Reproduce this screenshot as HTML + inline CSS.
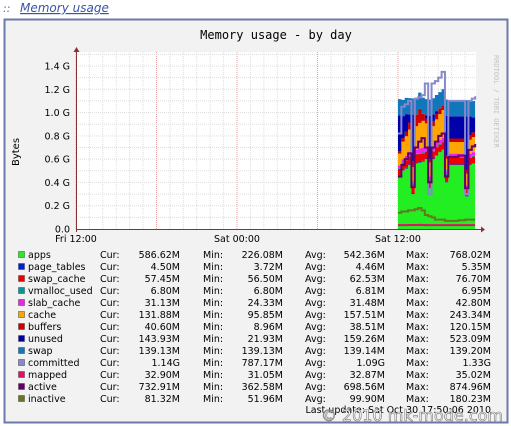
<!DOCTYPE html>
<html><head><meta charset="utf-8"><style>
body{margin:0;background:#fff;width:511px;height:426px;overflow:hidden}
svg{display:block}
</style></head><body>
<svg id="c" width="511" height="426" xmlns="http://www.w3.org/2000/svg" font-family="DejaVu Sans, Liberation Sans, sans-serif">
<text x="3" y="12" font-size="11" fill="#5566aa" font-style="italic">::</text>
<text x="20" y="12" font-size="12" fill="#3a55a8" font-style="italic" text-decoration="underline">Memory usage</text>
<rect x="4.5" y="19.5" width="503" height="403" fill="#f2f2f2" stroke="#6b7aa8" stroke-width="2"/>
<text x="276" y="39" font-size="12" font-family="DejaVu Sans Mono, Liberation Mono, monospace" text-anchor="middle" fill="#000">Memory usage - by day</text>
<text transform="translate(494,55) rotate(90)" font-size="7" fill="#c4c4c4" font-family="DejaVu Sans Mono, monospace">RRDTOOL / TOBI OETIKER</text>
<text transform="translate(19,152) rotate(-90)" font-size="10" text-anchor="middle">Bytes</text>
<rect x="76" y="52" width="400" height="177" fill="#fff"/>
<g id="grid"></g><g id="marks"></g><g id="axes"></g><g id="legend"></g>
<text x="491" y="413" font-size="9.5" text-anchor="end">Last update: Sat Oct 30 17:50:06 2010</text>
<text x="503" y="421" font-size="16" text-anchor="end" fill="#fff" stroke="#777" stroke-width="0.6">© 2010 mk-mode.com</text>
</svg>
<script>
const times=[24.0,24.25,24.5,24.75,25,25.25,25.5,25.75,26,26.25,26.5,26.75,27,27.25,27.5,27.75,28,28.25,28.5,28.75,29,29.25,29.5,29.75];
const apps=[0.45,0.5,0.52,0.55,0.3,0.56,0.57,0.58,0.6,0.35,0.6,0.63,0.66,0.68,0.4,0.55,0.55,0.55,0.55,0.55,0.28,0.55,0.56,0.58];
const pageTables=[0.005,0.005,0.005,0.005,0.005,0.005,0.005,0.005,0.005,0.005,0.005,0.005,0.005,0.005,0.005,0.005,0.005,0.005,0.005,0.005,0.005,0.005,0.005,0.005];
const swapCache=[0.06,0.06,0.065,0.07,0.07,0.075,0.07,0.065,0.06,0.06,0.06,0.065,0.06,0.06,0.06,0.055,0.055,0.055,0.055,0.055,0.055,0.055,0.057,0.057];
const vmallocUsed=[0.007,0.007,0.007,0.007,0.007,0.007,0.007,0.007,0.007,0.007,0.007,0.007,0.007,0.007,0.007,0.007,0.007,0.007,0.007,0.007,0.007,0.007,0.007,0.007];
const slabCache=[0.025,0.028,0.03,0.033,0.03,0.035,0.04,0.042,0.035,0.03,0.032,0.035,0.035,0.03,0.03,0.03,0.03,0.03,0.03,0.03,0.03,0.03,0.031,0.031];
const cache=[0.1,0.15,0.17,0.19,0.12,0.2,0.22,0.23,0.2,0.12,0.18,0.2,0.22,0.24,0.1,0.1,0.1,0.1,0.1,0.1,0.1,0.12,0.13,0.13];
const buffers=[0.02,0.03,0.04,0.06,0.05,0.1,0.12,0.06,0.04,0.03,0.04,0.05,0.05,0.04,0.03,0.03,0.03,0.03,0.03,0.03,0.03,0.04,0.04,0.04];
const unused=[0.31,0.19,0.15,0.07,0.4,0.0,0.0,0.0,0.03,0.37,0.06,0.02,0.0,0.0,0.34,0.19,0.19,0.19,0.19,0.19,0.46,0.16,0.13,0.12];
const swap=[0.139,0.139,0.139,0.139,0.139,0.139,0.139,0.139,0.139,0.139,0.139,0.139,0.139,0.139,0.139,0.139,0.139,0.139,0.139,0.139,0.139,0.139,0.139,0.139];
const committed=[0.82,1.05,1.07,1.1,0.4,1.12,1.13,1.15,1.25,0.3,1.25,1.27,1.3,1.35,0.5,1.1,1.1,1.1,1.1,1.1,0.3,1.1,1.12,1.14];
const mapped=[0.033,0.033,0.033,0.034,0.034,0.034,0.035,0.034,0.033,0.033,0.033,0.033,0.033,0.033,0.033,0.033,0.033,0.033,0.033,0.033,0.033,0.033,0.033,0.033];
const active=[0.45,0.55,0.6,0.65,0.36,0.7,0.75,0.78,0.7,0.4,0.7,0.75,0.8,0.82,0.45,0.62,0.62,0.62,0.63,0.63,0.35,0.68,0.71,0.73];
const inactive=[0.14,0.15,0.15,0.16,0.16,0.17,0.18,0.16,0.12,0.11,0.1,0.08,0.08,0.08,0.07,0.07,0.07,0.07,0.075,0.075,0.08,0.08,0.081,0.081];
const yTicks=[0,0.2,0.4,0.6,0.8,1.0,1.2,1.4];
const yTickLabels=["0.0","0.2 G","0.4 G","0.6 G","0.8 G","1.0 G","1.2 G","1.4 G"];
const xTicks=[0,12,24];
const xTickLabels=["Fri 12:00","Sat 00:00","Sat 12:00"];
const legendNames=["apps","page_tables","swap_cache","vmalloc_used","slab_cache","cache","buffers","unused","swap","committed","mapped","active","inactive"];
const legendCur=["586.62M","4.50M","57.45M","6.80M","31.13M","131.88M","40.60M","143.93M","139.13M","1.14G","32.90M","732.91M","81.32M"];
const legendMin=["226.08M","3.72M","56.50M","6.80M","24.33M","95.85M","8.96M","21.93M","139.13M","787.17M","31.05M","362.58M","51.96M"];
const legendAvg=["542.36M","4.46M","62.53M","6.81M","31.48M","157.51M","38.51M","159.26M","139.14M","1.09G","32.87M","698.56M","99.90M"];
const legendMax=["768.02M","5.35M","76.70M","6.95M","42.80M","243.34M","120.15M","523.09M","139.20M","1.33G","35.02M","874.96M","180.23M"];
const colors=["#22ee22","#0022cc","#ee0000","#009999","#ee22ee","#ffa500","#cc0000","#0000aa","#1177bb","#8888cc","#dd1166","#660066","#667722"];
const NS="http://www.w3.org/2000/svg";
const X=h=>76+h*(161/12), Y=v=>229-v*(163/1.4);
function el(t,a,p){const e=document.createElementNS(NS,t);for(const k in a)e.setAttribute(k,a[k]);p.appendChild(e);return e;}
const grid=document.getElementById('grid'),marks=document.getElementById('marks'),axes=document.getElementById('axes'),legend=document.getElementById('legend');
for(let h=0;h<=29;h++){const l=el('line',{x1:X(h),x2:X(h),y1:52,y2:229,stroke:h%6==0?'#e8a0a0':'#dddddd','stroke-dasharray':'1,1'},grid);

}
for(let v=0.1;v<1.55;v+=0.1){const l=el('line',{x1:76,x2:476,y1:Y(v),y2:Y(v),stroke:'#dddddd','stroke-dasharray':'1,1'},grid);

}
const stack=[apps,pageTables,swapCache,vmallocUsed,slabCache,cache,buffers,unused,swap];
let base=times.map(()=>0);
stack.forEach((s,i)=>{const top=base.map((b,j)=>b+s[j]);let d='';
times.forEach((t,j)=>{d+=(j?'L':'M')+X(t)+','+Y(top[j])+(j<times.length-1?'H'+X(times[j+1]):'');});
for(let j=times.length-1;j>=0;j--){d+='L'+(j<times.length-1?X(times[j+1]):X(times[j]))+','+Y(base[j])+'H'+X(times[j]);}
const p=el('path',{d:d+'Z',fill:colors[i]},marks);


base=top;});
[[committed,9],[mapped,10],[active,11],[inactive,12]].forEach(([s,i])=>{let d='';
times.forEach((t,j)=>{d+=(j?'L':'M')+X(t)+','+Y(s[j])+(j<times.length-1?'H'+X(times[j+1]):'');});
const p=el('path',{d,fill:'none',stroke:colors[i],'stroke-width':2},marks);

});
el('line',{x1:76,x2:481,y1:229.5,y2:229.5,stroke:'#883333'},axes);
el('path',{d:'M481,226.5L485,229.5L481,232.5Z',fill:'#883333'},axes);
el('line',{x1:76.5,x2:76.5,y1:48,y2:232,stroke:'#883333'},axes);
el('path',{d:'M73.5,52L76.5,47L79.5,52Z',fill:'#883333'},axes);
yTicks.forEach((v,i)=>{const t=el('text',{x:70,y:Y(v)+3.5,'font-size':9.5,'text-anchor':'end'},axes);t.textContent=yTickLabels[i];

});
xTicks.forEach((h,i)=>{const t=el('text',{x:X(h),y:242,'font-size':9.5,'text-anchor':'middle'},axes);t.textContent=xTickLabels[i];

});
legendNames.forEach((n,i)=>{const y=258+i*12;
const sw=el('rect',{x:18.5,y:y-6.5,width:6,height:6,fill:colors[i],stroke:'#444','stroke-width':0.5},legend);


const cells=[[28,n,'start'],[100,'Cur:','start'],[180,legendCur[i],'end'],[203,'Min:','start'],[283,legendMin[i],'end'],[305,'Avg:','start'],[385,legendAvg[i],'end'],[406,'Max:','start'],[491,legendMax[i],'end']];
cells.forEach(([x,s,a])=>{const t=el('text',{x,y,'font-size':9.5,'text-anchor':a},legend);t.textContent=s;

});});
</script>
</body></html>
